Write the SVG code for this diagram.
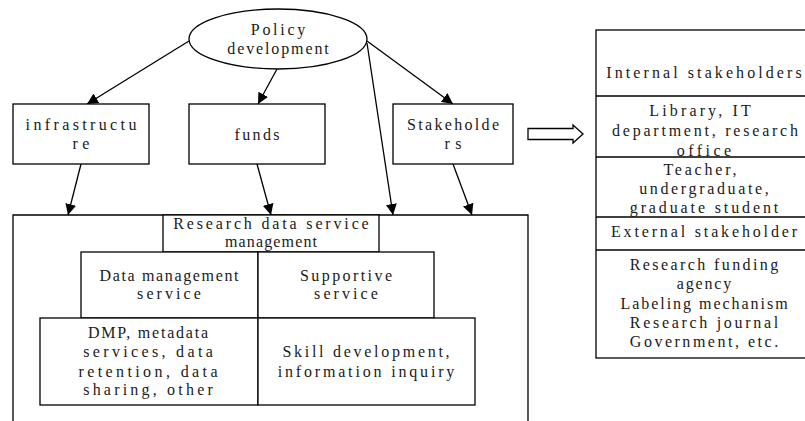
<svg xmlns="http://www.w3.org/2000/svg" width="805" height="421" viewBox="0 0 805 421">
<style>
  .box { fill: #fff; stroke: #000; stroke-width: 1.3; }
  .ln { fill: none; stroke: #000; stroke-width: 1.3; marker-end: url(#ah); }
  text { font-family: "Liberation Serif", "Times New Roman", serif; font-size: 16px; fill: #1a1a1a; text-anchor: middle; }
</style>
<defs>
  <marker id="ah" viewBox="0 0 10 10" refX="10" refY="5" markerWidth="11" markerHeight="11" markerUnits="userSpaceOnUse" orient="auto">
    <path d="M0,0 L10,5 L0,10 z" fill="#000"/>
  </marker>
</defs>
<rect width="805" height="421" fill="#fff"/>

<g id="container">
  <path class="box" d="M13,430 L13,215 L528,215 L528,430"/>
</g>

<g id="connectors">
  <line class="ln" x1="189" y1="41" x2="87" y2="104"/>
  <line class="ln" x1="277" y1="69" x2="258" y2="104"/>
  <line class="ln" x1="367" y1="41" x2="453" y2="104"/>
  <line class="ln" x1="367" y1="43" x2="393" y2="215"/>
  <line class="ln" x1="81" y1="164" x2="68" y2="215"/>
  <line class="ln" x1="257" y1="164" x2="271" y2="215"/>
  <line class="ln" x1="453" y1="164" x2="472" y2="215"/>
  <polygon points="528,128.5 573,128.5 573,125 583,134 573,143 573,139.5 528,139.5" fill="#fff" stroke="#000" stroke-width="1.3"/>
</g>

<g id="policy">
  <ellipse class="box" cx="278" cy="39" rx="89" ry="30"/>
  <text x="278" y="35" textLength="54.4">Policy</text>
  <text x="278" y="54" textLength="101.4">development</text>
</g>

<g id="infrastructure">
  <rect class="box" x="13" y="104" width="136" height="60"/>
  <text x="81" y="130" textLength="110.8">infrastructu</text>
  <text x="81" y="149" textLength="16.8">re</text>
</g>

<g id="funds">
  <rect class="box" x="189" y="104" width="136" height="60"/>
  <text x="257" y="140" textLength="45">funds</text>
</g>

<g id="stakeholders">
  <rect class="box" x="393" y="104" width="120" height="60"/>
  <text x="453" y="130" textLength="92">Stakeholde</text>
  <text x="453" y="149" textLength="16.8">rs</text>
</g>

<g id="rdsm">
  <rect class="box" x="163" y="215" width="216" height="37"/>
  <text x="271" y="229" textLength="195.4">Research data service</text>
  <text x="271" y="247" textLength="92">management</text>
</g>

<g id="data-management">
  <rect class="box" x="81" y="252" width="177" height="66"/>
  <text x="169" y="281" textLength="139">Data management</text>
  <text x="169" y="299" textLength="63.8">service</text>
</g>

<g id="supportive">
  <rect class="box" x="258" y="252" width="176" height="66"/>
  <text x="346" y="281" textLength="92">Supportive</text>
  <text x="346" y="299" textLength="63.8">service</text>
</g>

<g id="dmp">
  <rect class="box" x="40" y="318" width="218" height="87"/>
  <text x="148" y="338" textLength="120.2">DMP, metadata</text>
  <text x="148" y="357" textLength="129.6">services, data</text>
  <text x="148" y="377" textLength="139">retention, data</text>
  <text x="148" y="395" textLength="129.6">sharing, other</text>
</g>

<g id="skill">
  <rect class="box" x="258" y="318" width="217" height="87"/>
  <text x="366" y="357" textLength="167.2">Skill development,</text>
  <text x="366" y="377" textLength="176.6">information inquiry</text>
</g>

<g id="stakeholder-table">
  <rect class="box" x="596" y="30" width="216" height="328"/>
  <line x1="596" y1="96" x2="812" y2="96" stroke="#000" stroke-width="1.3"/>
  <line x1="596" y1="157" x2="812" y2="157" stroke="#000" stroke-width="1.3"/>
  <line x1="596" y1="217" x2="812" y2="217" stroke="#000" stroke-width="1.3"/>
  <line x1="596" y1="250" x2="812" y2="250" stroke="#000" stroke-width="1.3"/>
  <text x="704" y="78" textLength="195.4">Internal stakeholders</text>
  <text x="700" y="116" textLength="101.4">Library, IT</text>
  <text x="705" y="136" textLength="186">department, research</text>
  <text x="704" y="156" textLength="54.4">office</text>
  <text x="700" y="175" textLength="73.2">Teacher,</text>
  <text x="704" y="194" textLength="129.6">undergraduate,</text>
  <text x="704" y="213" textLength="148.4">graduate student</text>
  <text x="704" y="237" textLength="186">External stakeholder</text>
  <text x="704" y="270" textLength="148.4">Research funding</text>
  <text x="704" y="289" textLength="54.4">agency</text>
  <text x="704" y="309" textLength="167.2">Labeling mechanism</text>
  <text x="704" y="328" textLength="148.4">Research journal</text>
  <text x="704" y="347" textLength="148.4">Government, etc.</text>
</g>
</svg>
